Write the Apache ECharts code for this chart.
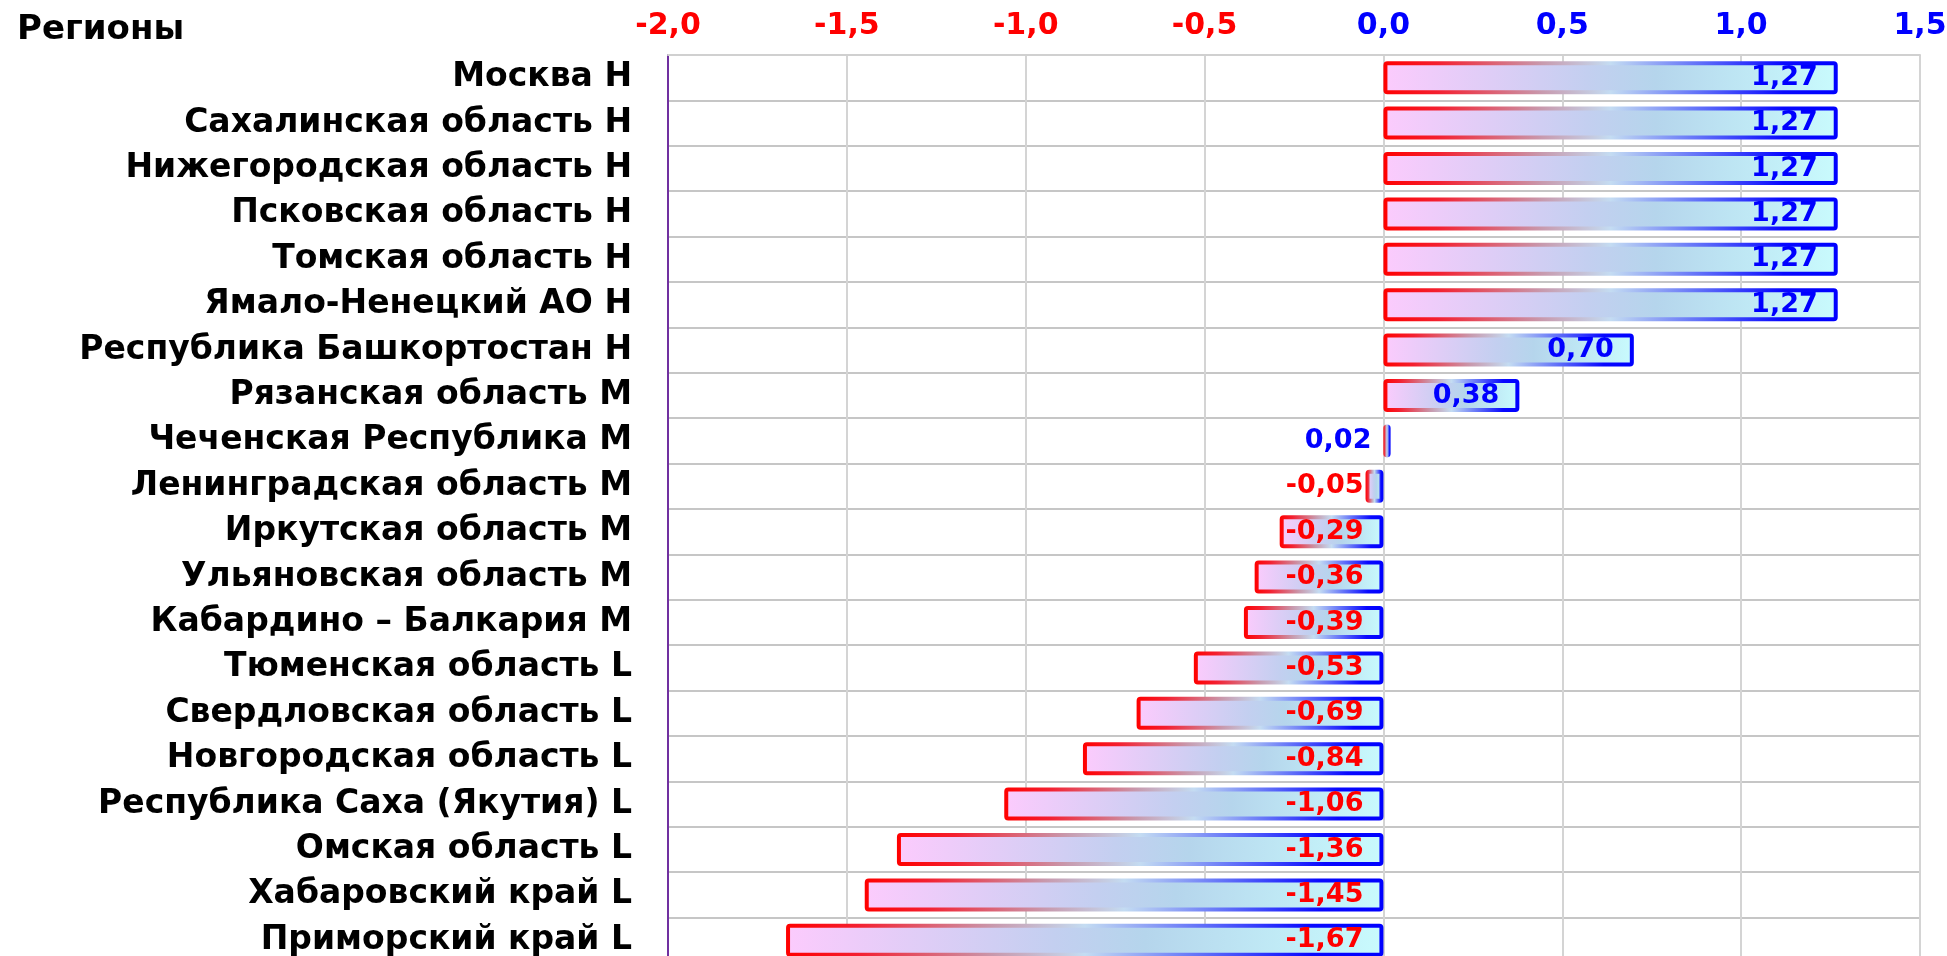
<!DOCTYPE html>
<html>
<head>
<meta charset="utf-8">
<script src="https://cdn.jsdelivr.net/npm/echarts@6/dist/echarts.min.js"></script>
<style>
  html, body { margin: 0; padding: 0; background: #fff; overflow: hidden; }
  #chart { width: 1947px; height: 956px; }
</style>
</head>
<body>
<div id="chart"></div>
<script>
// регионы сверху вниз
var regions = [
    "Москва Н", "Сахалинская область Н", "Нижегородская область Н", "Псковская область Н",
    "Томская область Н", "Ямало-Ненецкий АО Н", "Республика Башкортостан Н", "Рязанская область М",
    "Чеченская Республика М", "Ленинградская область М", "Иркутская область М", "Ульяновская область М",
    "Кабардино – Балкария М", "Тюменская область L", "Свердловская область L", "Новгородская область L",
    "Республика Саха (Якутия) L", "Омская область L", "Хабаровский край L", "Приморский край L"
];
var values = [
    1.27, 1.27, 1.27, 1.27, 1.27, 1.27, 0.70, 0.38, 0.02, -0.05,
    -0.29, -0.36, -0.39, -0.53, -0.69, -0.84, -1.06, -1.36, -1.45, -1.67
];
var xTicks = [-2.0, -1.5, -1.0, -0.5, 0.0, 0.5, 1.0, 1.5];

var RED = "#ff0000";
var BLUE = "#0000ff";
var FONT = "DejaVu Sans";

function comma(v, d) {
    return v.toFixed(d).replace(".", ",");
}

var fillGrad = new echarts.graphic.LinearGradient(0, 0, 1, 0, [
    { offset: 0, color: "#fccbfd" },
    { offset: 0.45, color: "#c3cff0" },
    { offset: 0.6, color: "#b5d5ec" },
    { offset: 1, color: "#c9fbfd" }
]);
var borderGrad = new echarts.graphic.LinearGradient(0, 0, 1, 0, [
    { offset: 0, color: "#ff0000" },
    { offset: 0.12, color: "#f42030" },
    { offset: 0.35, color: "#c89aae" },
    { offset: 0.5, color: "#c4dcf2" },
    { offset: 0.68, color: "#6878f8" },
    { offset: 0.88, color: "#0808ff" },
    { offset: 1, color: "#0000ff" }
]);

var barData = values.map(function (v) {
    var item = { value: v, label: { color: v >= 0 ? BLUE : RED } };
    if (Math.abs(v) < 0.1) {
        item.label.position = "left";
        item.label.distance = v >= 0 ? 12 : 2;
    }
    return item;
});

var chart = echarts.init(document.getElementById("chart"));
chart.setOption({
    backgroundColor: "#ffffff",
    animation: false,
    title: {
        text: "Регионы",
        left: 12,
        top: 8,
        textStyle: { fontFamily: FONT, fontSize: 34, fontWeight: "bold", color: "#000" }
    },
    grid: {
        left: 668,
        right: 27,
        top: 55,
        height: 908,
        outerBoundsMode: "none",
        containLabel: false
    },
    xAxis: {
        type: "value",
        position: "top",
        min: xTicks[0],
        max: xTicks[xTicks.length - 1],
        interval: 0.5,
        axisLine: { show: true, onZero: false, lineStyle: { color: "#d0d0d0", width: 2 } },
        axisTick: { show: false },
        axisLabel: {
            margin: 14,
            fontFamily: FONT,
            fontSize: 30,
            fontWeight: "bold",
            color: function (v) { return Number(v) < 0 ? RED : BLUE; },
            formatter: function (v) { return comma(v, 1); }
        },
        splitLine: { show: true, lineStyle: { color: "#d4d4d4", width: 2 } }
    },
    yAxis: {
        type: "category",
        inverse: true,
        data: regions,
        axisLine: { show: true, onZero: false, lineStyle: { color: "#7030a0", width: 2 } },
        axisTick: { show: false },
        axisLabel: {
            margin: 36,
            fontFamily: FONT,
            fontSize: 33,
            fontWeight: "bold",
            color: "#000"
        },
        splitLine: { show: true, interval: 0, lineStyle: { color: "#c6c6c6", width: 2 } }
    },
    series: [{
        type: "bar",
        data: barData,
        barWidth: 33,
        itemStyle: {
            color: fillGrad,
            borderColor: borderGrad,
            borderWidth: 4,
            borderRadius: 2
        },
        label: {
            show: true,
            position: "insideRight",
            distance: 20,
            fontFamily: FONT,
            fontSize: 27,
            fontWeight: "bold",
            formatter: function (p) { return comma(p.value, 2); }
        }
    }]
});
</script>
</body>
</html>
